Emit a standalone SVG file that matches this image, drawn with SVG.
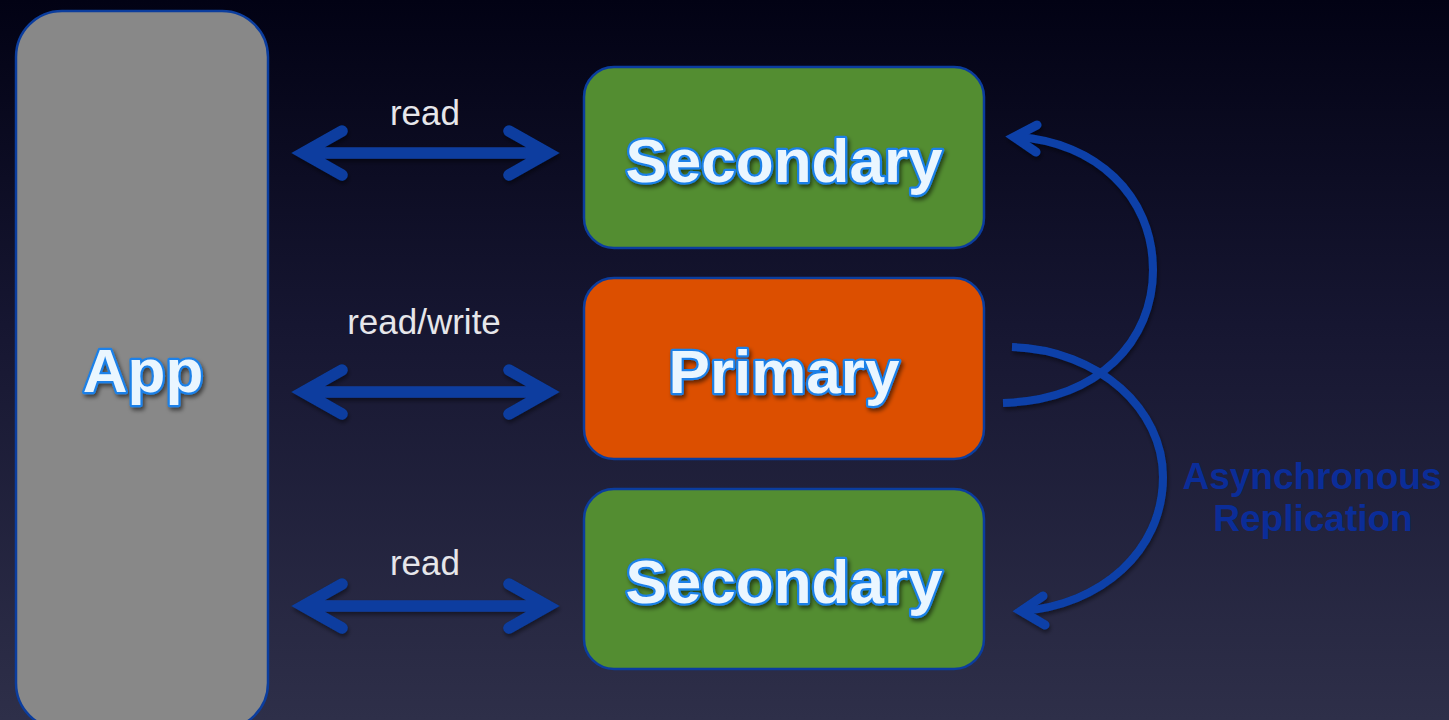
<svg xmlns="http://www.w3.org/2000/svg" width="1449" height="720" viewBox="0 0 1449 720">
  <defs>
    <linearGradient id="bg" x1="0" y1="0" x2="0" y2="1">
      <stop offset="0" stop-color="#020214"/>
      <stop offset="0.45" stop-color="#161631"/>
      <stop offset="1" stop-color="#2e2f49"/>
    </linearGradient>
    <filter id="txtShadow" x="-10%" y="-20%" width="125%" height="150%">
      <feGaussianBlur in="SourceAlpha" stdDeviation="2"/>
      <feOffset dx="2" dy="3" result="o"/>
      <feComponentTransfer><feFuncA type="linear" slope="0.55"/></feComponentTransfer>
      <feMerge><feMergeNode/><feMergeNode in="SourceGraphic"/></feMerge>
    </filter>
    <filter id="lineShadow" x="-10%" y="-10%" width="120%" height="120%">
      <feGaussianBlur in="SourceAlpha" stdDeviation="2"/>
      <feOffset dx="1" dy="3"/>
      <feComponentTransfer><feFuncA type="linear" slope="0.45"/></feComponentTransfer>
      <feMerge><feMergeNode/><feMergeNode in="SourceGraphic"/></feMerge>
    </filter>
    <style>
      .box { stroke: #0b3d9e; stroke-width: 2.5; }
      .green { fill: #538d31; }
      .orange { fill: #dc4f00; }
      .gray { fill: #888888; }
      .label { font-family: "Liberation Sans", Arial, sans-serif; font-weight: bold; font-size: 62px;
               fill: #eaf6ff; stroke: #1a80e8; stroke-width: 4.5; paint-order: stroke; stroke-linejoin: round;
               text-anchor: middle; filter: url(#txtShadow); }
      .edge-label { font-family: "Liberation Sans", Arial, sans-serif; font-size: 35px; fill: #e6e6ea; text-anchor: middle; }
      .note { font-family: "Liberation Sans", Arial, sans-serif; font-weight: bold; font-size: 37px; fill: #0b2d98; text-anchor: middle; }
      .arrow { fill: none; stroke: #0a3d9f; stroke-width: 11.5; stroke-linecap: round; stroke-linejoin: miter; stroke-miterlimit: 6; }
      .curve { fill: none; stroke: #0b40a8; stroke-width: 8; stroke-linecap: butt; stroke-linejoin: miter; stroke-miterlimit: 6; }
      .curve-head { fill: none; stroke: #0b40a8; stroke-width: 9; stroke-linecap: round; stroke-linejoin: miter; stroke-miterlimit: 6; }
    </style>
  </defs>

  <rect width="1449" height="720" fill="url(#bg)"/>

  <!-- application tier -->
  <g id="app">
    <rect class="box gray" x="16" y="11" width="252" height="718" rx="46" ry="46"/>
    <text class="label" x="143" y="392">App</text>
  </g>

  <!-- replica set members -->
  <g id="secondary-top">
    <rect class="box green" x="584" y="67" width="400" height="181" rx="30" ry="30"/>
    <text class="label" x="784" y="182">Secondary</text>
  </g>
  <g id="primary">
    <rect class="box orange" x="584" y="278" width="400" height="181" rx="30" ry="30"/>
    <text class="label" x="784" y="393">Primary</text>
  </g>
  <g id="secondary-bottom">
    <rect class="box green" x="584" y="489" width="400" height="180" rx="30" ry="30"/>
    <text class="label" x="784" y="603">Secondary</text>
  </g>

  <!-- connectors -->
  <g id="connectors" filter="url(#lineShadow)">
    <!-- app <-> top secondary -->
    <path class="arrow" d="M303,153 L548,153 M342,131 L303,153 L342,175 M509,131 L548,153 L509,175"/>
    <!-- app <-> primary -->
    <path class="arrow" d="M303,392 L548,392 M342,370 L303,392 L342,414 M509,370 L548,392 L509,414"/>
    <!-- app <-> bottom secondary -->
    <path class="arrow" d="M303,606 L548,606 M342,584 L303,606 L342,628 M509,584 L548,606 L509,628"/>

    <!-- replication primary -> top secondary -->
    <path class="curve" d="M1003,403 C1100,400 1153,340 1153,270 C1153,195 1095,142 1018,137"/>
    <path class="curve-head" d="M1037,125 L1014,137 L1036,152"/>
    <!-- replication primary -> bottom secondary -->
    <path class="curve" d="M1012,347 C1100,350 1163,410 1163,477 C1163,552 1100,605 1022,611"/>
    <path class="curve-head" d="M1043,596 L1021,611 L1045,625"/>
  </g>

  <!-- connector labels -->
  <text class="edge-label" x="425" y="125">read</text>
  <text class="edge-label" x="424" y="334">read/write</text>
  <text class="edge-label" x="425" y="575">read</text>
  <text class="note" x="1312" y="489">Asynchronous</text>
  <text class="note" x="1313" y="531">Replication</text>
</svg>
